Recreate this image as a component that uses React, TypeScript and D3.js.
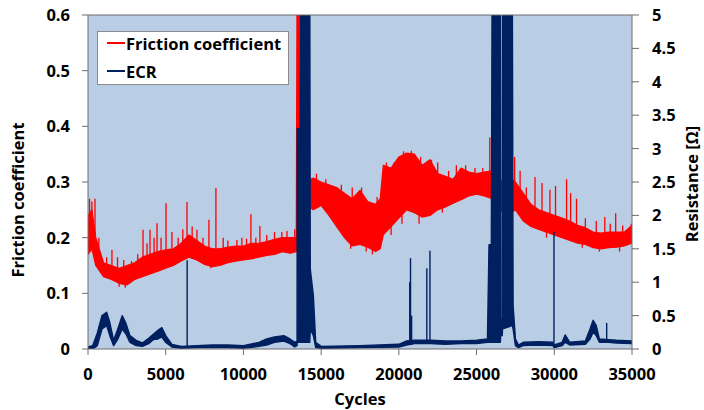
import React from "react";
import * as d3 from "d3";

// ---------- data ----------
// Friction coefficient: lower / upper envelope of the noisy band
const fCycles = [0, 250, 500, 1000, 1500, 2000, 2500, 3000, 3500, 4000, 4500, 5000, 5500, 6000, 6500, 7000, 7500, 8000, 8500, 9000, 9500, 10000, 10500, 11000, 11500, 12000, 12500, 13000, 13400, 13450, 13770, 13800, 14000, 14500, 15000, 15500, 16000, 16500, 17000, 17500, 18000, 18500, 18800, 19000, 19500, 20000, 20500, 21000, 21500, 22000, 22500, 23000, 23500, 24000, 24500, 25000, 25500, 26000, 26500, 27000, 27500, 28000, 28500, 29000, 29500, 30000, 30500, 31000, 31500, 32000, 32500, 33000, 33500, 34000, 34500, 35000];
const fLow = [0.17, 0.18, 0.15, 0.13, 0.125, 0.118, 0.115, 0.125, 0.13, 0.135, 0.14, 0.145, 0.15, 0.158, 0.165, 0.16, 0.152, 0.148, 0.15, 0.155, 0.158, 0.16, 0.162, 0.165, 0.168, 0.17, 0.175, 0.172, 0.175, 0.18, 0.18, 0.25, 0.26, 0.25, 0.258, 0.24, 0.22, 0.2, 0.185, 0.188, 0.183, 0.175, 0.18, 0.205, 0.22, 0.235, 0.25, 0.245, 0.237, 0.24, 0.25, 0.255, 0.262, 0.268, 0.275, 0.278, 0.275, 0.27, 0.25, 0.24, 0.25, 0.23, 0.22, 0.215, 0.21, 0.205, 0.2, 0.195, 0.19, 0.188, 0.182, 0.18, 0.182, 0.183, 0.185, 0.19];
const fHigh = [0.24, 0.25, 0.2, 0.155, 0.15, 0.145, 0.15, 0.155, 0.165, 0.17, 0.175, 0.178, 0.18, 0.19, 0.205, 0.195, 0.185, 0.18, 0.18, 0.183, 0.185, 0.185, 0.19, 0.19, 0.193, 0.197, 0.2, 0.2, 0.2, 0.65, 0.65, 0.3, 0.3, 0.307, 0.3, 0.295, 0.29, 0.28, 0.27, 0.285, 0.265, 0.26, 0.27, 0.33, 0.325, 0.345, 0.352, 0.35, 0.33, 0.34, 0.315, 0.31, 0.305, 0.325, 0.318, 0.315, 0.318, 0.32, 0.3, 0.31, 0.3, 0.28, 0.26, 0.25, 0.245, 0.24, 0.235, 0.23, 0.222, 0.218, 0.21, 0.208, 0.21, 0.21, 0.21, 0.222];
// Friction spikes (up and down): [cycle, base, tip]
const fSpikes = [
  [100, 0.2, 0.27], [250, 0.2, 0.265], [450, 0.2, 0.27], [700, 0.16, 0.2], [1200, 0.14, 0.165], [1540, 0.14, 0.178],
  [1900, 0.13, 0.165], [2300, 0.13, 0.16], [2800, 0.13, 0.158], [3200, 0.14, 0.17], [3540, 0.15, 0.214],
  [3800, 0.15, 0.19], [3990, 0.155, 0.214], [4250, 0.155, 0.2], [4440, 0.16, 0.226], [4700, 0.16, 0.2],
  [5020, 0.16, 0.262], [5400, 0.17, 0.21], [5800, 0.17, 0.2], [6100, 0.18, 0.215], [6370, 0.18, 0.264],
  [6700, 0.18, 0.22], [7010, 0.18, 0.214], [7400, 0.17, 0.2], [7780, 0.17, 0.232], [8230, 0.17, 0.289],
  [8700, 0.17, 0.2], [9000, 0.17, 0.195], [9580, 0.17, 0.196], [9900, 0.17, 0.2], [10200, 0.175, 0.198],
  [10480, 0.175, 0.242], [10800, 0.175, 0.2], [11060, 0.18, 0.221], [11500, 0.18, 0.205], [12000, 0.185, 0.21],
  [12470, 0.185, 0.21], [12800, 0.185, 0.212], [13300, 0.19, 0.215],
  [2000, 0.13, 0.112], [2400, 0.13, 0.11], [7900, 0.16, 0.145],
  [14700, 0.28, 0.315], [15300, 0.27, 0.305], [16300, 0.26, 0.295], [17000, 0.25, 0.29], [17600, 0.26, 0.29],
  [18600, 0.24, 0.273], [17900, 0.2, 0.175], [18300, 0.2, 0.17], [16900, 0.2, 0.18],
  [19200, 0.3, 0.335], [19700, 0.3, 0.335], [20300, 0.32, 0.355], [20800, 0.32, 0.356], [21400, 0.31, 0.345],
  [22100, 0.3, 0.34], [22500, 0.3, 0.335], [23200, 0.29, 0.32], [23700, 0.29, 0.33], [24300, 0.3, 0.33],
  [24900, 0.3, 0.325], [25400, 0.3, 0.325], [25850, 0.3, 0.38],
  [19500, 0.24, 0.205], [20200, 0.25, 0.225], [21300, 0.25, 0.225], [22800, 0.27, 0.245],
  [27450, 0.28, 0.345], [27800, 0.27, 0.32], [28200, 0.25, 0.29],
  [28760, 0.25, 0.309], [29210, 0.24, 0.298], [29720, 0.23, 0.286], [30080, 0.23, 0.293], [30790, 0.22, 0.305],
  [31050, 0.22, 0.28], [31430, 0.21, 0.27], [32000, 0.21, 0.235], [32700, 0.2, 0.23], [33250, 0.2, 0.237],
  [33600, 0.2, 0.225], [33950, 0.2, 0.244], [34400, 0.2, 0.222], [34950, 0.2, 0.225],
  [29500, 0.22, 0.2], [31800, 0.2, 0.182], [32900, 0.19, 0.175], [34200, 0.19, 0.175]
];

// ECR (resistance, Ohm): lower / upper envelope
const eCycles = [0, 300, 600, 900, 1200, 1400, 1650, 1900, 2200, 2450, 2700, 3100, 3500, 3900, 4200, 4500, 4750, 5000, 5400, 6000, 7000, 8000, 9000, 10000, 11000, 11500, 12000, 12600, 13000, 13300, 13450, 13460, 13650, 13700, 14270, 14300, 14500, 14650, 15000, 17500, 20000, 20500, 21000, 22000, 23000, 24000, 25000, 25700, 25800, 25950, 26000, 26530, 26550, 26650, 26670, 27300, 27350, 27500, 27700, 28000, 29000, 29900, 30000, 30500, 30700, 31000, 32000, 32300, 32500, 32700, 32900, 33500, 34000, 35000];
const eLow = [0, 0, 0.05, 0.3, 0.35, 0.2, 0.05, 0.14, 0.3, 0.22, 0.1, 0.05, 0.04, 0.08, 0.14, 0.15, 0.18, 0.1, 0.03, 0.01, 0.02, 0.02, 0.02, 0.01, 0.04, 0.06, 0.1, 0.12, 0.08, 0.03, 0.05, 0.1, 0.1, 0.1, 0.1, 0.3, 0.2, 0.02, 0.01, 0.02, 0.03, 0.06, 0.08, 0.08, 0.07, 0.08, 0.08, 0.1, 0.1, 0.1, 0.1, 0.1, 0.2, 0.2, 0.3, 0.35, 0.3, 0.05, 0.02, 0.05, 0.06, 0.05, 0.02, 0.05, 0.1, 0.06, 0.07, 0.15, 0.25, 0.2, 0.1, 0.1, 0.09, 0.08];
const eHigh = [0.03, 0.05, 0.24, 0.5, 0.55, 0.4, 0.13, 0.29, 0.5, 0.38, 0.2, 0.13, 0.09, 0.16, 0.22, 0.28, 0.32, 0.2, 0.07, 0.04, 0.05, 0.06, 0.06, 0.05, 0.1, 0.15, 0.18, 0.2, 0.15, 0.1, 0.12, 3.3, 3.3, 5.5, 5.5, 1.2, 0.8, 0.1, 0.04, 0.05, 0.07, 0.12, 0.13, 0.13, 0.12, 0.12, 0.13, 0.15, 1.56, 1.56, 5.5, 5.5, 0.45, 0.45, 5.5, 5.5, 0.65, 0.15, 0.06, 0.1, 0.11, 0.1, 0.06, 0.1, 0.21, 0.1, 0.12, 0.3, 0.43, 0.35, 0.15, 0.14, 0.13, 0.12];
// ECR spikes: [cycle, base, peak]
const eSpikes = [
  [6380, 0.02, 1.33], [20700, 0.06, 1.0], [20750, 0.06, 1.36], [20820, 0.06, 0.5],
  [21800, 0.08, 1.21], [22000, 0.08, 1.47], [29980, 0.05, 1.75], [33370, 0.1, 0.39]
];

const xTicks = [0, 5000, 10000, 15000, 20000, 25000, 30000, 35000];
const yLeftTicks = [0, 0.1, 0.2, 0.3, 0.4, 0.5, 0.6];
const yRightTicks = [0, 0.5, 1, 1.5, 2, 2.5, 3, 3.5, 4, 4.5, 5];
const legendLabels = ["Friction coefficient", "ECR"];

// ---------- layout ----------
const W = 704, H = 410;
const L = 88, R = 632, T = 15, B = 349;
const RED = "#ff0000";
const NAVY = "#002060";
const AXIS = "#6d6d6d";
const FONT = "'Open Sans', Lato, sans-serif";
const FS = 16.5;

export default function App() {
  const x = d3.scaleLinear().domain([0, 35000]).range([L, R]);
  const yL = d3.scaleLinear().domain([0, 0.6]).range([B, T]);
  const yR = d3.scaleLinear().domain([0, 5]).range([B, T]);

  const fIdx = fCycles.map((_, i) => i);
  const fArea = d3.area<number>()
    .x((i) => x(fCycles[i]))
    .y0((i) => yL(fLow[i]))
    .y1((i) => yL(fHigh[i]))(fIdx) || "";
  const eIdx = eCycles.map((_, i) => i);
  const eArea = d3.area<number>()
    .x((i) => x(eCycles[i]))
    .y0((i) => yR(eLow[i]))
    .y1((i) => yR(eHigh[i]))(eIdx) || "";

  return (
    <svg width={W} height={H} style={{ position: "absolute", left: 0, top: 0, background: "#fff" }}
      fontFamily={FONT} fontWeight="bold">
      <defs>
        <clipPath id="plotclip">
          <rect x={L} y={T} width={R - L} height={B - T} />
        </clipPath>
      </defs>
      <rect x={L} y={T} width={R - L} height={B - T} fill="#b9cde5" />
      <g clipPath="url(#plotclip)">
        <path d={fArea} fill={RED} stroke={RED} strokeWidth={1.2} strokeLinejoin="round" />
        {fSpikes.map((s, i) => (
          <line key={"fs" + i} x1={x(s[0])} x2={x(s[0])} y1={yL(s[1])} y2={yL(s[2])} stroke={RED} strokeWidth={1.3} />
        ))}
        <path d={eArea} fill={NAVY} stroke={NAVY} strokeWidth={1.4} strokeLinejoin="round" />
        {eSpikes.map((s, i) => (
          <line key={"es" + i} x1={x(s[0])} x2={x(s[0])} y1={yR(s[1])} y2={yR(s[2])} stroke={NAVY} strokeWidth={1.4} />
        ))}
      </g>
      {/* axes lines */}
      <line x1={L} x2={L} y1={T} y2={B} stroke={AXIS} strokeWidth={1} />
      <line x1={L} x2={R} y1={B} y2={B} stroke={AXIS} strokeWidth={1} />
      <line x1={R} x2={R} y1={T} y2={B} stroke={AXIS} strokeWidth={1} />
      <line x1={L} x2={R} y1={T} y2={T} stroke={AXIS} strokeWidth={1} />
      {/* left ticks */}
      {yLeftTicks.map((t) => (
        <g key={"yl" + t}>
          <line x1={L - 6} x2={L} y1={yL(t)} y2={yL(t)} stroke={AXIS} />
          <text x={70} y={yL(t)} dy="0.36em" textAnchor="end" fontSize={FS} fill="#000">{String(t)}</text>
        </g>
      ))}
      {/* right ticks */}
      {yRightTicks.map((t) => (
        <g key={"yr" + t}>
          <line x1={R} x2={R + 7} y1={yR(t)} y2={yR(t)} stroke={AXIS} />
          <text x={652} y={yR(t)} dy="0.36em" textAnchor="start" fontSize={FS} fill="#000">{String(t)}</text>
        </g>
      ))}
      {/* x ticks */}
      {xTicks.map((t) => (
        <g key={"x" + t}>
          <line x1={x(t)} x2={x(t)} y1={B} y2={B + 6} stroke={AXIS} />
          <text x={x(t)} y={374} dy="0.36em" textAnchor="middle" fontSize={FS} fill="#000">{String(t)}</text>
        </g>
      ))}
      {/* axis titles */}
      <text x={360} y={405} textAnchor="middle" fontSize={FS} fill="#000">Cycles</text>
      <text transform="translate(24,200) rotate(-90)" textAnchor="middle" fontSize={FS} fill="#000">Friction coefficient</text>
      <text transform="translate(698,184) rotate(-90)" textAnchor="middle" fontSize={FS} fill="#000">Resistance [Ω]</text>
      {/* legend */}
      <rect x={97.5} y={31.5} width={191} height={53} fill="#fff" stroke="#8c8c8c" strokeWidth={1} />
      {legendLabels.map((lab, i) => (
        <g key={lab}>
          <line x1={107} x2={125} y1={43 + i * 28} y2={43 + i * 28} stroke={i === 0 ? RED : NAVY} strokeWidth={2} />
          <text x={126} y={49.5 + i * 28} fontSize={FS} fill="#000">{lab}</text>
        </g>
      ))}
    </svg>
  );
}
